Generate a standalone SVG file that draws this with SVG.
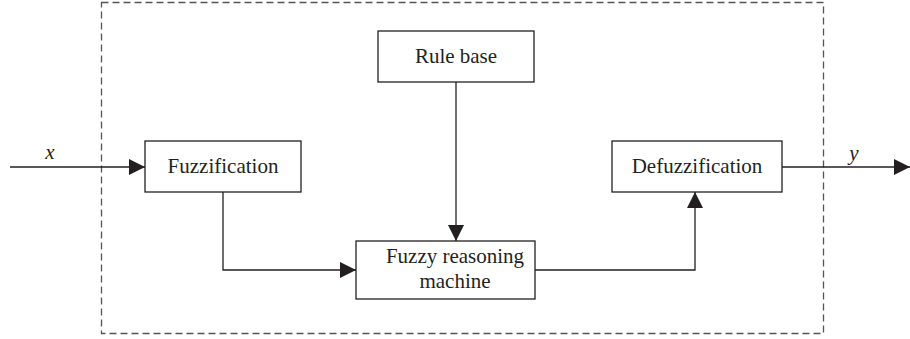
<svg xmlns="http://www.w3.org/2000/svg" width="910" height="339" viewBox="0 0 910 339">
<style>
.box{fill:#fff;stroke:#231f20;stroke-width:1.3}
.lbl{font-family:"Liberation Serif","Times New Roman",serif;font-size:21px;fill:#231f20;text-anchor:middle}
.var{font-family:"Liberation Serif","Times New Roman",serif;font-size:21px;font-style:italic;fill:#231f20;text-anchor:middle}
.ln{fill:none;stroke:#231f20;stroke-width:1.3}
</style>
<defs>
<marker id="ah" viewBox="0 0 16 16" refX="16" refY="8" markerWidth="16" markerHeight="16" markerUnits="userSpaceOnUse" orient="auto">
<path d="M0,0 L16,8 L0,16 Z" fill="#231f20"/>
</marker>
</defs>
<rect width="910" height="339" fill="#fff"/>
<rect x="101.5" y="2.5" width="722" height="331" fill="none" stroke="#555" stroke-width="1.3" stroke-dasharray="7,4"/>
<g id="connectors">
<line class="ln" x1="10" y1="167" x2="145" y2="167" marker-end="url(#ah)"/>
<polyline class="ln" points="223,192 223,270 356,270" marker-end="url(#ah)"/>
<line class="ln" x1="456" y1="82" x2="456" y2="241" marker-end="url(#ah)"/>
<polyline class="ln" points="535,270 695,270 695,192" marker-end="url(#ah)"/>
<line class="ln" x1="782" y1="167" x2="910" y2="167" marker-end="url(#ah)"/>
<text class="var" x="50" y="159">x</text>
<text class="var" x="854" y="160">y</text>
</g>
<g id="fuzzification">
<rect class="box" x="145" y="141" width="156" height="51"/>
<text class="lbl" x="223" y="173">Fuzzification</text>
</g>
<g id="rulebase">
<rect class="box" x="378" y="31" width="156" height="51"/>
<text class="lbl" x="456" y="63">Rule base</text>
</g>
<g id="reasoning">
<rect class="box" x="356" y="241" width="179" height="58"/>
<text class="lbl" x="455" y="263">Fuzzy reasoning</text>
<text class="lbl" x="455" y="288">machine</text>
</g>
<g id="defuzzification">
<rect class="box" x="612" y="141" width="170" height="51"/>
<text class="lbl" x="697" y="173">Defuzzification</text>
</g>
</svg>
